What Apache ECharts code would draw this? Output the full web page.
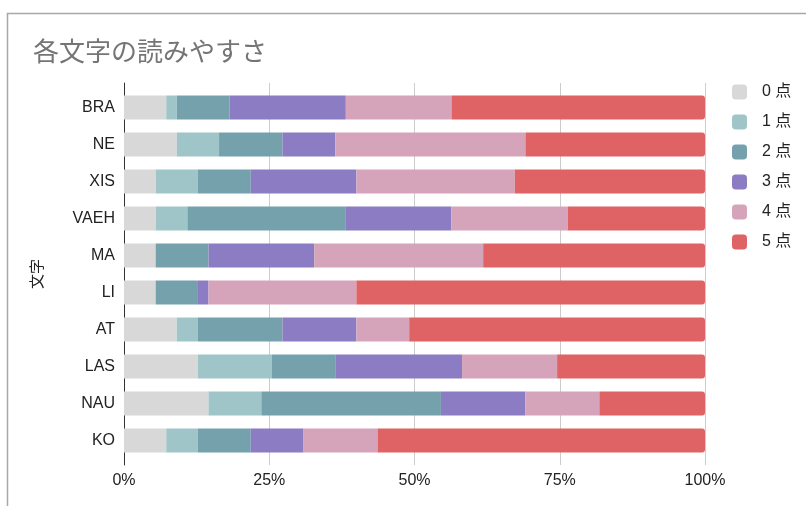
<!DOCTYPE html>
<html><head><meta charset="utf-8">
<script src="https://cdn.jsdelivr.net/npm/echarts@6/dist/echarts.min.js"></script>
<style>html,body{margin:0;padding:0;background:#fff}#c{width:806px;height:506px}</style>
</head><body><div id="c"></div>
<script>
const categories = ['BRA','NE','XIS','VAEH','MA','LI','AT','LAS','NAU','KO'];
const seriesNames = ['0 点','1 点','2 点','3 点','4 点','5 点'];
// counts of respondents per score (out of 55)
const score0 = [4,5,3,3,3,3,5,7,8,4];
const score1 = [1,4,4,3,0,0,2,7,5,3];
const score2 = [5,6,5,15,5,4,8,6,17,5];
const score3 = [11,5,10,10,10,1,7,12,8,5];
const score4 = [10,18,15,11,16,14,5,9,7,7];
const score5 = [24,17,18,13,21,33,28,14,10,31];
const xTicks = [0,25,50,75,100];
const colors = ['#d8d8d8','#a0c5c8','#74a1ab','#8b7cc3','#d5a4ba','#df6365'];

const all = [score0,score1,score2,score3,score4,score5];
const totals = categories.map((_,i)=>all.reduce((s,a)=>s+a[i],0));
const font = 'Liberation Sans, Arial, Noto Sans CJK JP, sans-serif';

const chart = echarts.init(document.getElementById('c'), null, {renderer:'canvas'});
chart.setOption({
  animation:false,
  textStyle:{fontFamily:font},
  title:{text:'各文字の読みやすさ',left:28,top:33,textStyle:{fontSize:26,fontWeight:'normal',color:'#757575',fontFamily:'Noto Sans CJK JP, sans-serif'}},
  graphic:[
    {type:'line',shape:{x1:7,y1:13.5,x2:806,y2:13.5},style:{stroke:'#a8a8a8',lineWidth:1.5}},
    {type:'line',shape:{x1:7.5,y1:13,x2:7.5,y2:506},style:{stroke:'#a8a8a8',lineWidth:1.5}}
  ],
  legend:{
    orient:'vertical',left:727,top:79,itemWidth:15,itemHeight:15,itemGap:14,
    icon:'roundRect',
    data:seriesNames,
    textStyle:{fontSize:16,lineHeight:15,color:'#222',padding:[0,0,0,10],fontFamily:font}
  },
  grid:[
    {left:124,right:101,top:89,bottom:47,containLabel:false},
    {left:124,right:101,top:83,bottom:41,containLabel:false}
  ],
  xAxis:[{
    type:'value',gridIndex:0,min:0,max:100,interval:25,
    axisLine:{show:false},axisTick:{show:false},splitLine:{show:false},axisLabel:{show:false}
  },{
    type:'value',gridIndex:1,min:0,max:100,interval:25,
    axisLine:{show:false},axisTick:{show:false},
    splitLine:{show:true,lineStyle:{color:'#cccccc',width:1}},
    axisLabel:{formatter:'{value}%',fontSize:16,color:'#222',margin:8,fontFamily:font,customValues:xTicks}
  }],
  yAxis:[{
    type:'category',gridIndex:0,data:categories,inverse:true,
    name:'文字',nameLocation:'middle',nameGap:80,nameRotate:90,
    nameTextStyle:{fontSize:15,color:'#222',fontFamily:'Noto Sans CJK JP, sans-serif'},
    axisLine:{show:false},
    axisTick:{show:false},
    axisLabel:{fontSize:16,color:'#222',margin:9,fontFamily:font}
  },{
    type:'value',gridIndex:1,min:0,max:1,
    axisLine:{show:true,lineStyle:{color:'#333',width:1}},
    axisTick:{show:false},axisLabel:{show:false},splitLine:{show:false}
  }],
  series: all.map((arr,k)=>({
    name:seriesNames[k],type:'bar',stack:'total',barWidth:24,
    xAxisIndex:0,yAxisIndex:0,
    itemStyle:{color:colors[k],borderRadius:k===5?[0,3,3,0]:0},
    emphasis:{disabled:true},
    data:arr.map((v,i)=>v/totals[i]*100)
  }))
});
</script></body></html>
